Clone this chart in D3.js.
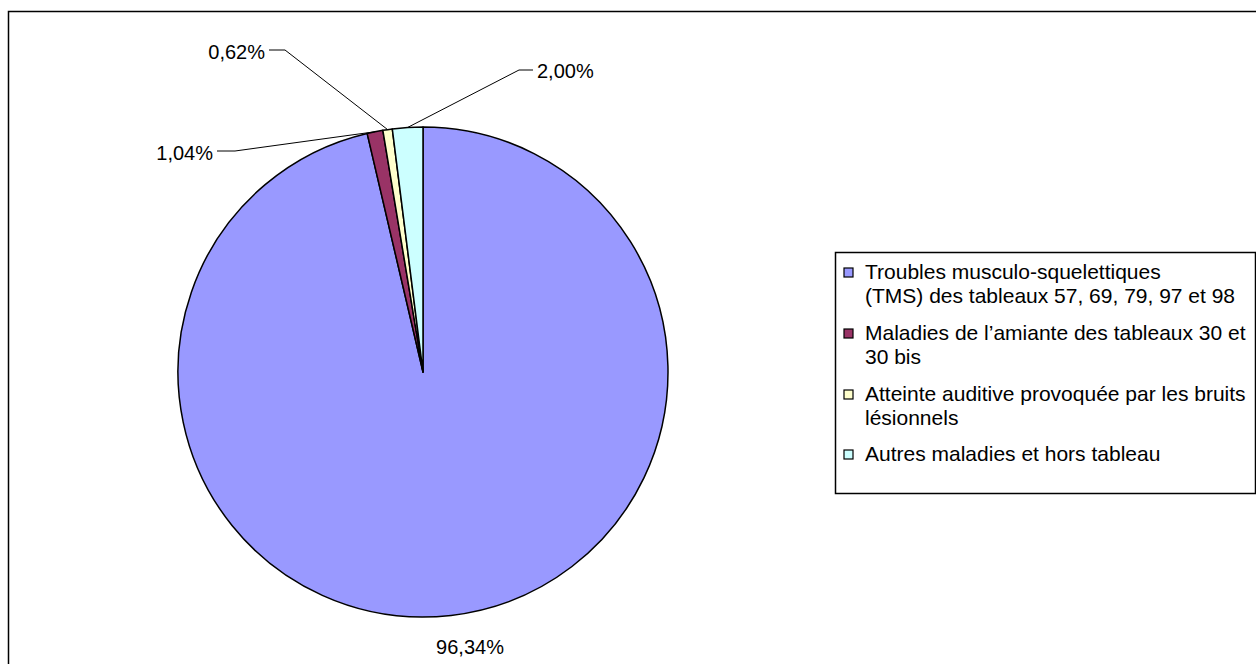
<!DOCTYPE html>
<html>
<head>
<meta charset="utf-8">
<script src="https://cdn.jsdelivr.net/npm/d3@7"></script>
<style>
  html, body { margin: 0; padding: 0; background: #fff; }
  svg { display: block; font-family: "Liberation Sans", Arial, sans-serif; }
</style>
</head>
<body>
<div id="chart"></div>
<script>
// data
var categories = [
    "Troubles musculo-squelettiques (TMS) des tableaux 57, 69, 79, 97 et 98",
    "Maladies de l\u2019amiante des tableaux 30 et 30 bis",
    "Atteinte auditive provoquée par les bruits lésionnels",
    "Autres maladies et hors tableau"
];
var legendLines = [
    ["Troubles musculo-squelettiques", "(TMS) des tableaux 57, 69, 79, 97 et 98"],
    ["Maladies de l\u2019amiante des tableaux 30 et", "30 bis"],
    ["Atteinte auditive provoquée par les bruits", "lésionnels"],
    ["Autres maladies et hors tableau"]
];
var values = [96.34, 1.04, 0.62, 2.00];
var colors = ["#9999FF", "#993366", "#FFFFCC", "#CCFFFF"];

var width = 1256, height = 664;
var cx = 423, cy = 372, radius = 245;

var svg = d3.select("#chart").append("svg")
    .attr("width", width)
    .attr("height", height);

// outer chart frame (right / bottom edges fall outside the picture)
svg.append("rect")
    .attr("x", 8.5).attr("y", 11.5)
    .attr("width", 1300).attr("height", 700)
    .attr("fill", "none")
    .attr("stroke", "#000")
    .attr("stroke-width", 1.5);

var pie = d3.pie().sort(null).value(function (d) { return d; });
var arcs = pie(values);
var arc = d3.arc().innerRadius(0).outerRadius(radius);
var edgeArc = d3.arc().innerRadius(radius).outerRadius(radius);

var g = svg.append("g").attr("transform", "translate(" + cx + "," + cy + ")");

g.selectAll("path.slice")
    .data(arcs)
    .enter()
    .append("path")
    .attr("class", "slice")
    .attr("d", arc)
    .attr("fill", function (d, i) { return colors[i]; })
    .attr("stroke", "#000")
    .attr("stroke-width", 1.5)
    .attr("stroke-linejoin", "round");

// label placement relative to pie centre (text anchor point, leader elbow)
var labelLayout = [
    { tx: 47,   ty: 282,  anchor: "middle", leader: false },
    { tx: -210, ty: -212, anchor: "end",   leader: true, ex: -188, ey: -221 },
    { tx: -158, ty: -313, anchor: "end",   leader: true, ex: -138, ey: -322 },
    { tx: 114,  ty: -294, anchor: "start", leader: true, ex: 96,   ey: -302 }
];

function fmt(v) {
    return v.toFixed(2).replace(".", ",") + "%";
}

arcs.forEach(function (d, i) {
    var L = labelLayout[i];
    if (L.leader) {
        var p = edgeArc.centroid(d);
        var hx = L.anchor === "end" ? L.tx + 4 : L.tx - 4;
        g.append("polyline")
            .attr("points", [[p[0], p[1]], [L.ex, L.ey], [hx, L.ey]].map(function (q) { return q.join(","); }).join(" "))
            .attr("fill", "none")
            .attr("stroke", "#000")
            .attr("stroke-width", 1);
    }
    g.append("text")
        .attr("x", L.tx)
        .attr("y", L.ty)
        .attr("text-anchor", L.anchor)
        .attr("font-size", 20)
        .attr("fill", "#000")
        .text(fmt(values[i]));
});

// legend
var legend = svg.append("g");
legend.append("rect")
    .attr("x", 835.5).attr("y", 252.5)
    .attr("width", 420).attr("height", 241)
    .attr("fill", "#fff")
    .attr("stroke", "#000")
    .attr("stroke-width", 1.5);

var itemTop = [279, 340, 401, 461];
var lineH = 23.5;

legendLines.forEach(function (lines, i) {
    var item = legend.append("g").attr("transform", "translate(0," + itemTop[i] + ")");
    item.append("rect")
        .attr("x", 844).attr("y", -11)
        .attr("width", 9).attr("height", 9)
        .attr("fill", colors[i])
        .attr("stroke", "#000")
        .attr("stroke-width", 1.2);
    var t = item.append("text")
        .attr("x", 865)
        .attr("y", 0)
        .attr("font-size", 21)
        .attr("fill", "#000");
    t.append("title").text(categories[i]);
    lines.forEach(function (s, k) {
        t.append("tspan").attr("x", 865).attr("y", k * lineH).text(s);
    });
});
</script>
</body>
</html>
